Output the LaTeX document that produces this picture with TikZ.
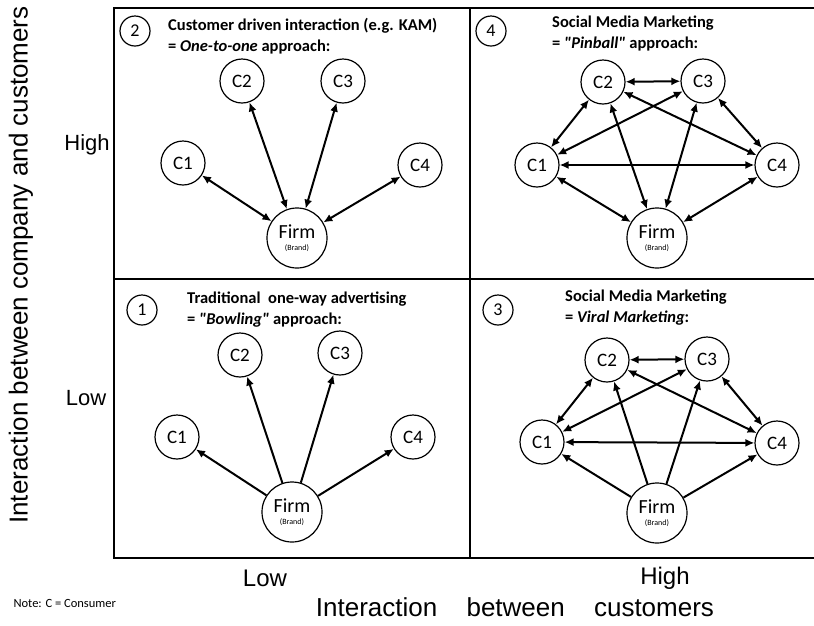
\documentclass[tikz,border=0pt]{standalone}
\usepackage{fontspec}
\setmainfont{Carlito}
\newfontfamily\axisfont{Liberation Sans}
\usetikzlibrary{arrows.meta}
\tikzset{
  cust/.style   = {circle, draw, line width=1.2pt, minimum size=44pt, inner sep=0pt,
                   font=\fontsize{19}{20}\selectfont},
  firm/.style   = {circle, draw, line width=1.2pt, minimum size=60pt, inner sep=0pt,
                   align=center, font=\fontsize{20}{18}\selectfont},
  num/.style    = {circle, draw, line width=1.2pt, minimum size=30pt, inner sep=0pt,
                   font=\fontsize{18}{18}\selectfont},
  title/.style  = {anchor=north west, align=left, inner sep=0pt,
                   font=\bfseries\fontsize{16.5}{21}\selectfont},
  oneway/.style = {-{Latex[length=9pt,width=8pt]}, line width=2pt},
  twoway/.style = {{Latex[length=9pt,width=8pt]}-{Latex[length=9pt,width=8pt]}, line width=2pt},
  axis/.style   = {font=\axisfont\fontsize{22}{24}\selectfont},
  bigaxis/.style = {font=\axisfont\fontsize{25}{28}\selectfont},
}
\newcommand{\brand}{Firm\\[-6pt]{\fontsize{8}{9}\selectfont(Brand)}}

\begin{document}
\begin{tikzpicture}[x=1pt, y=-1pt]
  \useasboundingbox (0,0) rectangle (814,625);
  % the four fields
  \draw[line width=2.5pt] (816,8) -- (114,8) -- (114,558) -- (816,558);
  \draw[line width=2.5pt] (470,8) -- (470,558);
  \draw[line width=2.5pt] (114,279) -- (816,279);

  % axes
  \node[bigaxis, rotate=90, font=\axisfont\fontsize{26}{28}\selectfont] (yaxis) at (21,265)
    {Interaction between company and customers};
  \node[axis] (yhigh) at (87,145) {High};
  \node[axis] (ylow) at (86,398) {Low};
  \node[bigaxis, font=\axisfont\fontsize{24}{26}\selectfont] (xlow) at (265,578) {Low};
  \node[bigaxis, font=\axisfont\fontsize{24}{26}\selectfont] (xhigh) at (665,578) {High};
  \node[bigaxis, font=\axisfont\fontsize{26}{28}\selectfont] (xaxis) at (515,607)
    {Interaction\hspace{22pt} between\hspace{22pt} customers};
  \node[font=\fontsize{12.5}{14}\selectfont, anchor=west] (note) at (10,603) {Note: C = Consumer};

  % 2: one-to-one
  \node[num] (kam-n) at (135,31) {2};
  \node[title] (kam-t) at (168,18) {Customer driven interaction (e.g. KAM)\\= \textit{One-to-one} approach:};
  \foreach \n/\x/\y in {1/183/163, 2/242/81, 3/343/81, 4/420/165}
    \node[cust] (kam-c\n) at (\x,\y) {C\n};
  \node[firm] (kam-f) at (297,238) {\brand};
  \foreach \n in {1,...,4}
    \draw[twoway] (kam-f) -- (kam-c\n);

  % 4: pinball
  \node[num] (pin-n) at (491,31) {4};
  \node[title] (pin-t) at (552,16) {Social Media Marketing\\= \textit{\textquotedbl Pinball\textquotedbl} approach:};
  \foreach \n/\x/\y in {1/537/165, 2/603/82, 3/703/81, 4/777/165}
    \node[cust] (pin-c\n) at (\x,\y) {C\n};
  \node[firm] (pin-f) at (657,238) {\brand};
  \foreach \a/\b in {1/2, 1/3, 1/4, 2/3, 2/4, 3/4}
    \draw[twoway] (pin-c\a) -- (pin-c\b);
  \foreach \n in {1,...,4}
    \draw[twoway] (pin-f) -- (pin-c\n);

  % 1: bowling
  \node[num] (bowl-n) at (142,310) {1};
  \node[title] (bowl-t) at (187,292) {Traditional \ one-way advertising\\= \textit{\textquotedbl Bowling\textquotedbl} approach:};
  \foreach \n/\x/\y in {1/177/437, 2/240/355, 3/340/353, 4/413/437}
    \node[cust] (bowl-c\n) at (\x,\y) {C\n};
  \node[firm] (bowl-f) at (292,512) {\brand};
  \foreach \n in {1,...,4}
    \draw[oneway] (bowl-f) -- (bowl-c\n);

  % 3: viral
  \node[num] (viral-n) at (498,310) {3};
  \node[title] (viral-t) at (565,290) {Social Media Marketing\\= \textit{Viral Marketing}:};
  \foreach \n/\x/\y in {1/542/442, 2/607/360, 3/707/359, 4/777/443}
    \node[cust] (viral-c\n) at (\x,\y) {C\n};
  \node[firm] (viral-f) at (657,513) {\brand};
  \foreach \a/\b in {1/2, 1/3, 1/4, 2/3, 2/4, 3/4}
    \draw[twoway] (viral-c\a) -- (viral-c\b);
  \foreach \n in {1,...,4}
    \draw[oneway] (viral-f) -- (viral-c\n);
\end{tikzpicture}
\end{document}
